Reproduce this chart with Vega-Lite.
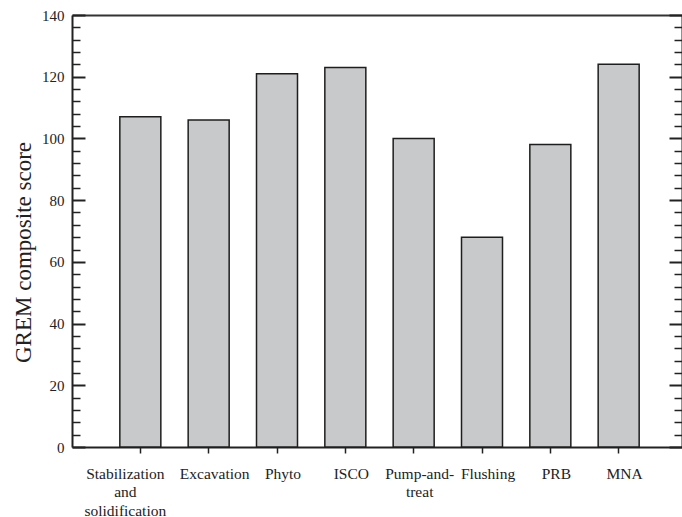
{
  "$schema": "https://vega.github.io/schema/vega-lite/v6.json",
  "autosize": {"type": "none"},
  "width": 610,
  "height": 432,
  "padding": {"left": 72, "top": 15, "right": 0, "bottom": 70},
  "background": "white",
  "config": {
    "font": "Liberation Serif",
    "view": {"stroke": null},
    "axis": {
      "domainColor": "#222222",
      "tickColor": "#222222",
      "labelColor": "#222222",
      "titleColor": "#222222",
      "labelFont": "Liberation Serif",
      "titleFont": "Liberation Serif",
      "grid": false
    }
  },
  "data": {
    "values": [
      {"method": "Stabilization and solidification", "score": 107},
      {"method": "Excavation", "score": 106},
      {"method": "Phyto", "score": 121},
      {"method": "ISCO", "score": 123},
      {"method": "Pump-and-treat", "score": 100},
      {"method": "Flushing", "score": 68},
      {"method": "PRB", "score": 98},
      {"method": "MNA", "score": 124}
    ]
  },
  "resolve": {"axis": {"x": "independent", "y": "independent"}},
  "layer": [
    {
      "mark": {"type": "bar", "fill": "#c8c9cb", "stroke": "#1e1e1e", "strokeWidth": 1.5},
      "encoding": {
        "x": {
          "field": "method",
          "type": "nominal",
          "sort": null,
          "scale": {"range": [0, 615], "paddingInner": 0.4, "paddingOuter": 0.7},
          "axis": {
            "orient": "bottom",
            "title": null,
            "labelAngle": 0,
            "labelFontSize": 15.5,
            "labelPadding": 13,
            "labelLineHeight": 18.5,
            "labelBaseline": "top",
            "labelOffset": {
              "condition": {"test": "datum.value == 'Stabilization and solidification'", "value": -15},
              "value": 6
            },
            "labelExpr": "datum.value == 'Stabilization and solidification' ? ['Stabilization', 'and', 'solidification'] : datum.value == 'Pump-and-treat' ? ['Pump-and-', 'treat'] : datum.value",
            "labelOverlap": false,
            "tickSize": 6,
            "tickWidth": 1.5,
            "domainWidth": 2
          }
        },
        "y": {
          "field": "score",
          "type": "quantitative",
          "scale": {"domain": [0, 140], "nice": false},
          "axis": {
            "orient": "left",
            "title": "GREM composite score",
            "titleFontSize": 23,
            "titleFontWeight": "normal",
            "titleBaseline": "alphabetic",
            "titleAngle": -90,
            "titleX": -42,
            "titleY": 237,
            "values": [0, 20, 40, 60, 80, 100, 120, 140],
            "labelFontSize": 15,
            "tickSize": -13,
            "tickWidth": 2,
            "labelPadding": 21,
            "domainWidth": 2
          }
        }
      }
    },
    {
      "mark": {"type": "bar", "opacity": 0},
      "encoding": {
        "x": {
          "field": "method",
          "type": "nominal",
          "sort": null,
          "scale": {"range": [0, 615], "paddingInner": 0.4, "paddingOuter": 0.7},
          "axis": {"orient": "top", "title": null, "labels": false, "ticks": false, "domainWidth": 2, "domainColor": "#333333"}
        },
        "y": {
          "field": "score",
          "type": "quantitative",
          "scale": {"domain": [0, 140], "nice": false},
          "axis": {
            "orient": "left",
            "title": null,
            "labels": false,
            "domain": false,
            "values": [4, 8, 12, 16, 24, 28, 32, 36, 44, 48, 52, 56, 64, 68, 72, 76, 84, 88, 92, 96, 104, 108, 112, 116, 124, 128, 132, 136],
            "tickSize": -8,
            "tickWidth": 1.5
          }
        }
      }
    },
    {
      "mark": {"type": "bar", "opacity": 0},
      "encoding": {
        "x": {"field": "method", "type": "nominal", "sort": null, "axis": null},
        "y": {
          "field": "score",
          "type": "quantitative",
          "scale": {"domain": [0, 140], "nice": false},
          "axis": {
            "orient": "right",
            "title": null,
            "labels": false,
            "values": [0, 20, 40, 60, 80, 100, 120, 140],
            "tickSize": -13,
            "tickWidth": 2,
            "domainWidth": 2
          }
        }
      }
    },
    {
      "mark": {"type": "bar", "opacity": 0},
      "encoding": {
        "x": {"field": "method", "type": "nominal", "sort": null, "axis": null},
        "y": {
          "field": "score",
          "type": "quantitative",
          "scale": {"domain": [0, 140], "nice": false},
          "axis": {
            "orient": "right",
            "title": null,
            "labels": false,
            "domain": false,
            "values": [4, 8, 12, 16, 24, 28, 32, 36, 44, 48, 52, 56, 64, 68, 72, 76, 84, 88, 92, 96, 104, 108, 112, 116, 124, 128, 132, 136],
            "tickSize": -8,
            "tickWidth": 1.5
          }
        }
      }
    }
  ]
}
